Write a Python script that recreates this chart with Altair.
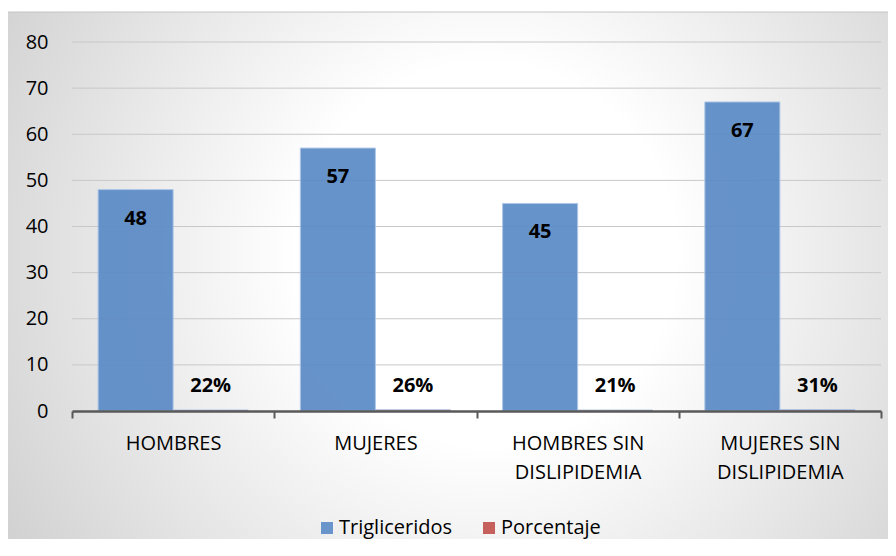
import altair as alt
import pandas as pd

categorias = ["HOMBRES", "MUJERES", "HOMBRES SIN DISLIPIDEMIA", "MUJERES SIN DISLIPIDEMIA"]
series = ["Trigliceridos", "Porcentaje"]
trigliceridos = [48, 57, 45, 67]
porcentaje = [0.22, 0.26, 0.21, 0.31]
y_ticks = [0, 10, 20, 30, 40, 50, 60, 70, 80]

rows = []
for c, t, p in zip(categorias, trigliceridos, porcentaje):
    rows.append({"cat": c, "serie": "Trigliceridos", "valor": t, "etiqueta": str(t)})
    rows.append({"cat": c, "serie": "Porcentaje", "valor": p, "etiqueta": f"{round(p * 100)}%"})
df = pd.DataFrame(rows)
grid_df = pd.DataFrame({"valor": y_ticks[1:]})

W, H = 809, 369
FONT = "Open Sans"

x_enc = alt.X(
    "cat:N", sort=categorias,
    scale=alt.Scale(paddingInner=0, paddingOuter=0),
    axis=alt.Axis(
        title=None, labelAngle=0, grid=False, tickBand="extent", zindex=2,
        domainColor="#595959", domainWidth=2.5, tickColor="#595959", tickWidth=2, tickSize=7,
        labelFont=FONT, labelFontSize=20, labelColor="#000000", labelPadding=15,
        labelLineHeight=29,
        labelExpr="split(replace(datum.label, ' SIN ', ' SIN|'), '|')",
    ),
)
xo_enc = alt.XOffset(
    "serie:N", sort=series,
    scale=alt.Scale(domain=series, paddingInner=0, paddingOuter=0.348),
)
y_scale = alt.Scale(domain=[0, 80], nice=False, zero=True)
y_enc = alt.Y(
    "valor:Q",
    scale=y_scale,
    axis=alt.Axis(
        title=None, values=y_ticks, domain=False, ticks=False, tickSize=0,
        grid=False, zindex=2,
        labelFont=FONT, labelFontSize=20, labelColor="#000000", labelPadding=24,
    ),
)

bg = alt.Chart(pd.DataFrame({"a": [0]})).mark_rect(
    fill={
        "gradient": "radial",
        "x1": 0.53, "y1": 0.47, "r1": 0,
        "x2": 0.53, "y2": 0.47, "r2": 0.75,
        "stops": [
            {"offset": 0, "color": "#ffffff"},
            {"offset": 0.28, "color": "#ffffff"},
            {"offset": 1, "color": "#c2c2c2"},
        ],
    },
    stroke="#c4c4c4", strokeWidth=1,
).encode(
    x=alt.value(-65), x2=alt.value(W + 30),
    y=alt.value(-30), y2=alt.value(H + 140),
)

grid = alt.Chart(grid_df).mark_rule(color="#c8c8c8", strokeWidth=1).encode(
    y=y_enc,
)

bars = alt.Chart(df).mark_bar(
    opacity=0.93, stroke="#a9c3e6", strokeWidth=1,
).encode(
    x=x_enc, xOffset=xo_enc, y=y_enc,
    color=alt.Color(
        "serie:N",
        scale=alt.Scale(domain=series, range=["#5b8bc6", "#c0504d"]),
        legend=alt.Legend(
            orient="none", legendX=245, legendY=476, direction="horizontal",
            title=None, symbolType="square", symbolSize=144, symbolStrokeWidth=0,
            symbolOpacity=0.9, labelFont=FONT, labelFontSize=20, labelColor="#000000",
            labelOffset=2, columnPadding=26,
        ),
    ),
)

lab_t = alt.Chart(df).transform_filter(alt.datum.serie == "Trigliceridos").mark_text(
    font=FONT, fontSize=20, fontWeight="bold", color="#000000", baseline="middle", dy=29,
).encode(x=x_enc, xOffset=xo_enc, y=y_enc, text="etiqueta:N")

lab_p = alt.Chart(df).transform_filter(alt.datum.serie == "Porcentaje").mark_text(
    font=FONT, fontSize=20, fontWeight="bold", color="#000000", baseline="middle", dy=-24,
).encode(x=x_enc, xOffset=xo_enc, y=y_enc, text="etiqueta:N")

chart = alt.layer(bg, grid, bars, lab_t, lab_p).properties(
    width=W, height=H,
    autosize=alt.AutoSizeParams(type="none"),
    padding={"left": 64, "top": 34, "right": 7, "bottom": 128},
).configure_view(stroke=None)

chart.save("out.html", embed_options={"renderer": "svg", "actions": False})
